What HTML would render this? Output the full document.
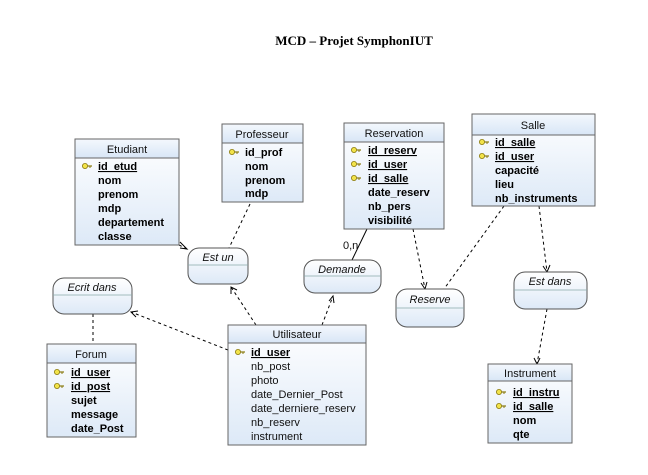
<!DOCTYPE html>
<html><head><meta charset="utf-8"><style>
html,body{margin:0;padding:0;background:#fff;}
svg{display:block;}
.h{font-family:"Liberation Sans",sans-serif;font-size:11px;fill:#111;}
.b{font-family:"Liberation Sans",sans-serif;font-size:11px;font-weight:bold;fill:#000;}
.n{font-family:"Liberation Sans",sans-serif;font-size:11px;fill:#111;}
.a{font-family:"Liberation Sans",sans-serif;font-size:11px;font-style:italic;fill:#111;}
.d{stroke:#000;stroke-width:1;stroke-dasharray:3,3;fill:none;}
.ar{stroke:#000;stroke-width:1;fill:none;}
</style></head><body>
<svg width="648" height="475" viewBox="0 0 648 475" xmlns="http://www.w3.org/2000/svg">
<defs>
<linearGradient id="g" x1="0" y1="0" x2="0" y2="1"><stop offset="0" stop-color="#ffffff"/><stop offset="1" stop-color="#dde9f7"/></linearGradient>
<linearGradient id="gh" x1="0" y1="0" x2="0" y2="1"><stop offset="0" stop-color="#f4f8fd"/><stop offset="1" stop-color="#d8e6f6"/></linearGradient>
<g id="k"><circle cx="3" cy="0" r="2.6" fill="#f2e34a" stroke="#8a7a10" stroke-width="0.8"/><line x1="5.5" y1="0" x2="10" y2="0" stroke="#8a7a10" stroke-width="1.2"/><line x1="8" y1="0" x2="8" y2="2" stroke="#8a7a10"/></g>
</defs>
<text x="354" y="45" text-anchor="middle" font-family="Liberation Serif,serif" font-weight="bold" font-size="13">MCD – Projet SymphonIUT</text>

<!-- connectors -->
<line class="d" x1="250" y1="204" x2="229" y2="248"/>
<line class="d" x1="179" y1="245" x2="187" y2="249"/><polyline class="ar" points="180,242 187,249 180,248"/>
<line class="d" x1="256" y1="325" x2="231" y2="287"/><polyline class="ar" points="231,294 231,287 237,290"/>
<line class="d" x1="322" y1="325" x2="333" y2="296"/><polyline class="ar" points="329,301 333,296 334,303"/>
<line class="d" x1="228" y1="350" x2="131" y2="312"/><polyline class="ar" points="138,311 131,312 136,317"/>
<line class="d" x1="93" y1="314" x2="93" y2="344"/>
<line class="ar" x1="367" y1="229" x2="352" y2="260"/>
<text x="343" y="249" class="n">0,n</text>
<line class="d" x1="413" y1="229" x2="425" y2="289"/><polyline class="ar" points="421,283 425,289 427,282"/>
<line class="d" x1="504" y1="206" x2="444" y2="289"/>
<line class="d" x1="539" y1="206" x2="547" y2="272"/><polyline class="ar" points="543,266 547,272 550,265"/>
<line class="d" x1="547" y1="309" x2="537" y2="364"/><polyline class="ar" points="534,358 537,364 540,358"/>

<!-- associations -->
<g stroke="#555" fill="url(#g)">
<rect x="188" y="248" width="60" height="36" rx="11"/>
<rect x="53" y="278" width="79" height="36" rx="11"/>
<rect x="304" y="260" width="77" height="33" rx="11"/>
<rect x="396" y="289" width="68" height="38" rx="11"/>
<rect x="514" y="272" width="73" height="37" rx="11"/>
</g>
<g stroke="#8aa" stroke-width="0.8">
<line x1="188" y1="265" x2="248" y2="265"/>
<line x1="53" y1="295" x2="132" y2="295"/>
<line x1="304" y1="276" x2="381" y2="276"/>
<line x1="396" y1="308" x2="464" y2="308"/>
<line x1="514" y1="290" x2="587" y2="290"/>
</g>
<text x="218" y="261" class="a" text-anchor="middle">Est un</text>
<text x="92" y="291" class="a" text-anchor="middle">Ecrit dans</text>
<text x="342" y="273" class="a" text-anchor="middle">Demande</text>
<text x="430" y="303" class="a" text-anchor="middle">Reserve</text>
<text x="550" y="285" class="a" text-anchor="middle">Est dans</text>

<!-- entities -->
<g stroke="#666" fill="url(#g)">
<rect x="75" y="139" width="104" height="106"/>
<rect x="222" y="124" width="81" height="78"/>
<rect x="344" y="123" width="100" height="106"/>
<rect x="472" y="114" width="123" height="92"/>
<rect x="228" y="325" width="138" height="120"/>
<rect x="47" y="344" width="89" height="93"/>
<rect x="488" y="364" width="84" height="79"/>
</g>
<g fill="url(#gh)" stroke="#666">
<rect x="75" y="139" width="104" height="19"/>
<rect x="222" y="124" width="81" height="19"/>
<rect x="344" y="123" width="100" height="19"/>
<rect x="472" y="114" width="123" height="21"/>
<rect x="228" y="325" width="138" height="18"/>
<rect x="47" y="344" width="89" height="19"/>
<rect x="488" y="364" width="84" height="17"/>
</g>

<text x="127" y="153" class="h" text-anchor="middle">Etudiant</text>
<use href="#k" x="82" y="166"/>
<text x="98" y="170" class="b" text-decoration="underline">id_etud</text>
<text x="98" y="184" class="b">nom</text>
<text x="98" y="198" class="b">prenom</text>
<text x="98" y="212" class="b">mdp</text>
<text x="98" y="226" class="b">departement</text>
<text x="98" y="240" class="b">classe</text>

<text x="262" y="138" class="h" text-anchor="middle">Professeur</text>
<use href="#k" x="229" y="152"/>
<text x="245" y="156" class="b">id_prof</text>
<text x="245" y="170" class="b">nom</text>
<text x="245" y="184" class="b">prenom</text>
<text x="245" y="197" class="b">mdp</text>

<text x="394" y="137" class="h" text-anchor="middle">Reservation</text>
<use href="#k" x="351" y="150"/>
<use href="#k" x="351" y="164"/>
<use href="#k" x="351" y="178"/>
<text x="368" y="154" class="b" text-decoration="underline">id_reserv</text>
<text x="368" y="168" class="b" text-decoration="underline">id_user</text>
<text x="368" y="182" class="b" text-decoration="underline">id_salle</text>
<text x="368" y="196" class="b">date_reserv</text>
<text x="368" y="210" class="b">nb_pers</text>
<text x="368" y="224" class="b">visibilité</text>

<text x="533" y="129" class="h" text-anchor="middle">Salle</text>
<use href="#k" x="479" y="142"/>
<use href="#k" x="479" y="156"/>
<text x="495" y="146" class="b" text-decoration="underline">id_salle</text>
<text x="495" y="160" class="b" text-decoration="underline">id_user</text>
<text x="495" y="174" class="b">capacité</text>
<text x="495" y="188" class="b">lieu</text>
<text x="495" y="202" class="b">nb_instruments</text>

<text x="297" y="338" class="h" text-anchor="middle">Utilisateur</text>
<use href="#k" x="235" y="352"/>
<text x="251" y="356" class="b" text-decoration="underline">id_user</text>
<text x="251" y="370" class="n">nb_post</text>
<text x="251" y="384" class="n">photo</text>
<text x="251" y="398" class="n">date_Dernier_Post</text>
<text x="251" y="412" class="n">date_derniere_reserv</text>
<text x="251" y="426" class="n">nb_reserv</text>
<text x="251" y="440" class="n">instrument</text>

<text x="91" y="358" class="h" text-anchor="middle">Forum</text>
<use href="#k" x="54" y="372"/>
<use href="#k" x="54" y="386"/>
<text x="71" y="376" class="b" text-decoration="underline">id_user</text>
<text x="71" y="390" class="b" text-decoration="underline">id_post</text>
<text x="71" y="404" class="b">sujet</text>
<text x="71" y="418" class="b">message</text>
<text x="71" y="432" class="b">date_Post</text>

<text x="530" y="377" class="h" text-anchor="middle">Instrument</text>
<use href="#k" x="496" y="392"/>
<use href="#k" x="496" y="406"/>
<text x="513" y="396" class="b" text-decoration="underline">id_instru</text>
<text x="513" y="410" class="b" text-decoration="underline">id_salle</text>
<text x="513" y="424" class="b">nom</text>
<text x="513" y="438" class="b">qte</text>
</svg>
</body></html>
